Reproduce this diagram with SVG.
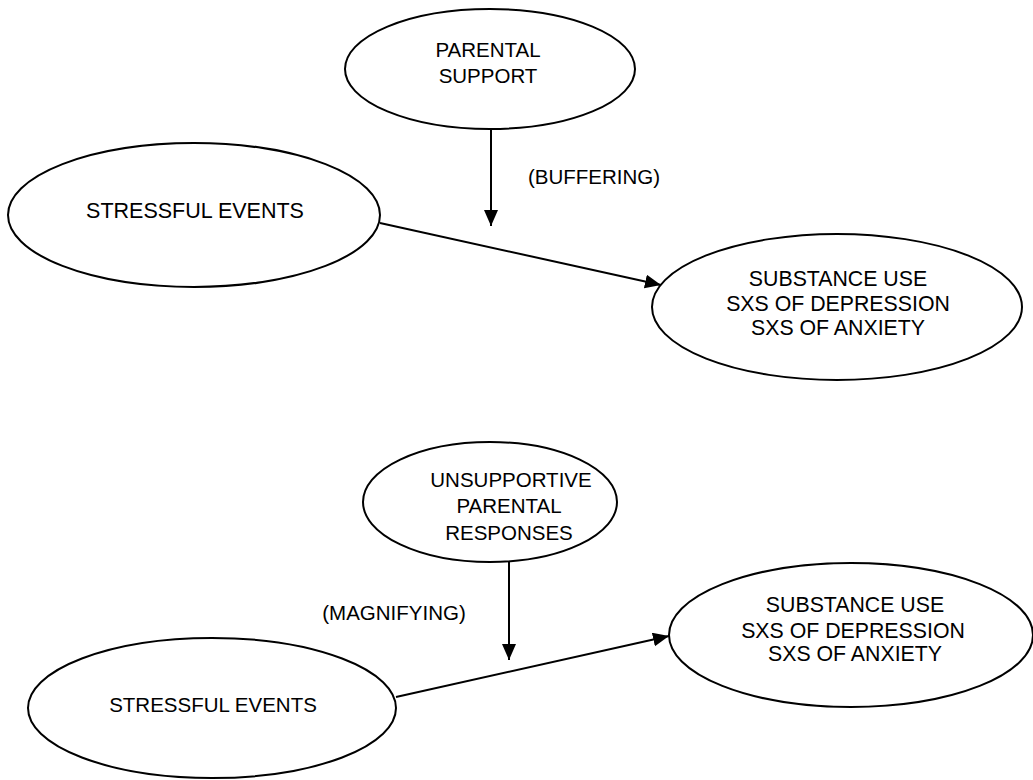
<svg xmlns="http://www.w3.org/2000/svg" width="1033" height="780" viewBox="0 0 1033 780">
<style>
.node ellipse{fill:#fff;stroke:#000;stroke-width:2}
text{font-family:"Liberation Sans",Arial,sans-serif;font-size:20.5px;fill:#000;text-anchor:middle}
.out text{font-size:21.3px}
.conn line{stroke:#000;stroke-width:2;fill:none}
</style>
<defs>
<marker id="arr" markerUnits="userSpaceOnUse" markerWidth="17" markerHeight="15" refX="16" refY="7" orient="auto" viewBox="0 0 17 15">
<path d="M0,0 L16,7 L0,14 z" fill="#000"/>
</marker>
</defs>
<rect width="1033" height="780" fill="#fff"/>
<g id="connectors" class="conn">
<line x1="491" y1="130" x2="491" y2="226" marker-end="url(#arr)"/>
<line x1="380" y1="223" x2="661" y2="285" marker-end="url(#arr)"/>
<line x1="509" y1="562" x2="509" y2="660" marker-end="url(#arr)"/>
<line x1="396" y1="697" x2="669" y2="636" marker-end="url(#arr)"/>
</g>
<g id="label-buffering"><text x="594" y="184">(BUFFERING)</text></g>
<g id="label-magnifying"><text x="394" y="620">(MAGNIFYING)</text></g>
<g id="node-parental-support" class="node">
<ellipse cx="490" cy="69" rx="145" ry="60"/>
<text x="488" y="57">PARENTAL</text>
<text x="488" y="83">SUPPORT</text>
</g>
<g id="node-stressful-1" class="node">
<ellipse cx="194" cy="215" rx="186" ry="72"/>
<text x="195" y="218" style="font-size:21.5px">STRESSFUL EVENTS</text>
</g>
<g id="node-outcomes-1" class="node out">
<ellipse cx="837" cy="307" rx="185" ry="73"/>
<text x="838" y="286">SUBSTANCE USE</text>
<text x="838" y="311">SXS OF DEPRESSION</text>
<text x="838" y="335">SXS OF ANXIETY</text>
</g>
<g id="node-unsupportive" class="node">
<ellipse cx="490" cy="502" rx="127" ry="60"/>
<text x="511" y="487">UNSUPPORTIVE</text>
<text x="509" y="513">PARENTAL</text>
<text x="509" y="540">RESPONSES</text>
</g>
<g id="node-stressful-2" class="node">
<ellipse cx="212" cy="708" rx="184" ry="70"/>
<text x="213" y="712">STRESSFUL EVENTS</text>
</g>
<g id="node-outcomes-2" class="node out">
<ellipse cx="851" cy="635" rx="182" ry="72"/>
<text x="855" y="612">SUBSTANCE USE</text>
<text x="853" y="638">SXS OF DEPRESSION</text>
<text x="855" y="661">SXS OF ANXIETY</text>
</g>
</svg>
